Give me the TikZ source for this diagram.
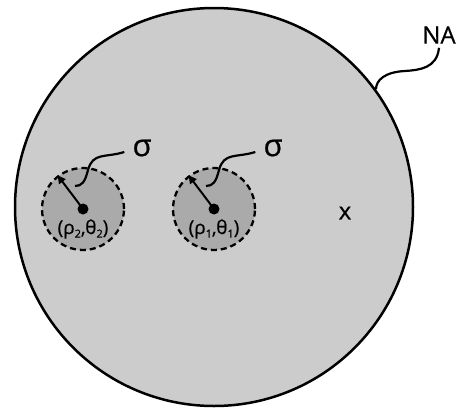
\documentclass[tikz,border=0pt]{standalone}
\usepackage{fontspec}
\setmainfont{Open Sans}[FakeBold=0.6]
\usetikzlibrary{arrows.meta}
\definecolor{bigfill}{RGB}{204,204,204}
\definecolor{smallfill}{RGB}{170,170,170}
\newcommand{\lowsub}[1]{\raisebox{-0.35ex}{\fontsize{11}{11}\selectfont #1}}
\begin{document}
\begin{tikzpicture}[x=1pt,y=-1pt,
  region/.style={circle, draw, line width=2.5pt, fill=bigfill, inner sep=0pt, minimum size=398pt},
  spot/.style={circle, draw, dash pattern=on 6pt off 4pt, line width=2.3pt, fill=smallfill, inner sep=0pt, minimum size=82pt},
  dotc/.style={circle, fill=black, inner sep=0pt, minimum size=11pt},
  poslabel/.style={font=\fontsize{19}{19}\selectfont, inner sep=0pt},
  biglabel/.style={font=\fontsize{24}{24}\selectfont, inner sep=0pt},
  siglabel/.style={font=\fontsize{31}{31}\selectfont, inner sep=0pt},
  wave/.style={line width=2.2pt},
  radius arrow/.style={line width=2pt, -{Triangle[length=8pt,width=8pt]}}]
\useasboundingbox (0,0) rectangle (458,408);
\node[region] (big) at (214,207) {};
\node[spot] (s2) at (83,209) {};
\node[spot] (s1) at (214,209) {};
\node[dotc] (d2) at (83,209) {};
\node[dotc] (d1) at (214,209) {};
\draw[radius arrow] (d2.center) -- (s2.127);
\draw[radius arrow] (d1.center) -- (s1.127);
\node[poslabel] (p2) at (83,229) {(ρ\lowsub{2},θ\lowsub{2})};
\node[poslabel] (p1) at (214,229) {(ρ\lowsub{1},θ\lowsub{1})};
\node[siglabel] (g2) at (142,148) {σ};
\node[siglabel] (g1) at (273,148) {σ};
\node[biglabel] (na) at (439,35) {NA};
\node[biglabel] (xx) at (345,213) {x};
\coordinate (w2) at (75,186);
\coordinate (w1) at (206,186);
\draw[wave] (g2.west) ++(-8,4) .. controls (105,158) and (93,152) .. (88,170) .. controls (85,182) and (82,186) .. (w2);
\draw[wave] (g1.west) ++(-8,4) .. controls (236,158) and (224,152) .. (219,170) .. controls (216,182) and (213,186) .. (w1);
\draw[wave] (na.south) ++(0,4) .. controls (437,68) and (420,70) .. (405,71) .. controls (385,72) and (376,80) .. (big.36.5);
\end{tikzpicture}
\end{document}
